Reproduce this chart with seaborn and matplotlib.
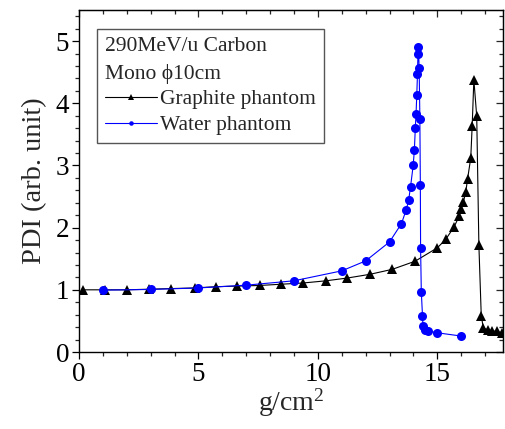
import numpy as np
import pandas as pd
import matplotlib
matplotlib.use("Agg")
import matplotlib.pyplot as plt
from matplotlib.ticker import MultipleLocator
import seaborn as sns

# ---- data ----
graphite_x = [0.18, 1.09, 1.99, 2.93, 3.87, 4.84, 5.72, 6.63, 7.56, 8.46, 9.39, 10.34,
              11.24, 12.19, 13.12, 14.07, 15.0, 15.35, 15.70, 15.91, 16.0, 16.09, 16.19,
              16.27, 16.40, 16.46, 16.53, 16.65, 16.74, 16.84, 16.93, 17.12, 17.3, 17.5, 17.72]
graphite_y = [1.0, 1.0, 1.0, 1.01, 1.02, 1.03, 1.05, 1.06, 1.07, 1.09, 1.11, 1.145,
              1.19, 1.25, 1.33, 1.46, 1.675, 1.81, 2.01, 2.18, 2.30, 2.41, 2.57,
              2.79, 3.12, 3.64, 4.38, 3.79, 1.72, 0.58, 0.38, 0.36, 0.34, 0.33, 0.31]

water_x = [1.0, 3.0, 5.0, 7.0, 9.0, 11.0, 12.0, 13.0, 13.5, 13.7, 13.8, 13.88, 13.99,
           14.04, 14.08, 14.11, 14.14, 14.17, 14.19, 14.21, 14.24, 14.27, 14.29, 14.30,
           14.33, 14.38, 14.40, 14.49, 14.63, 14.98, 15.99]
water_y = [0.995, 1.006, 1.03, 1.075, 1.145, 1.305, 1.465, 1.77, 2.065, 2.29, 2.44, 2.66, 3.0,
           3.25, 3.61, 3.83, 4.13, 4.47, 4.80, 4.90, 4.57, 3.75, 2.68, 1.675,
           0.97, 0.58, 0.42, 0.36, 0.34, 0.31, 0.257]

legend_title = "290MeV/u Carbon\nMono ϕ10cm"
series_names = ["Graphite phantom", "Water phantom"]
x_label = "g/cm$^{2}$"
y_label = "PDI (arb. unit)"

sns.set_style("ticks")
plt.rcParams["font.family"] = ["Liberation Serif", "DejaVu Serif"]
plt.rcParams["mathtext.fontset"] = "custom"
plt.rcParams["mathtext.rm"] = "Liberation Serif"
plt.rcParams["mathtext.it"] = "Liberation Serif:italic"

fig = plt.figure(figsize=(5.05, 4.29), dpi=100)
ax = fig.add_axes([79/505, 1-352/429, 424/505, 342/429])

gdf = pd.DataFrame({"x": graphite_x, "y": graphite_y})
wdf = pd.DataFrame({"x": water_x, "y": water_y})

sns.lineplot(data=gdf, x="x", y="y", ax=ax, sort=False, estimator=None,
             color="black", lw=0.8, marker="^", markersize=7.5,
             markeredgecolor="black", markeredgewidth=0, label=series_names[0])
sns.lineplot(data=wdf, x="x", y="y", ax=ax, sort=False, estimator=None,
             color="#0000ff", lw=0.8, marker="o", markersize=6.5,
             markeredgecolor="#0000ff", markeredgewidth=0, label=series_names[1])

ax.set_xlim(0, 17.75)
ax.set_ylim(0, 5.5)
ax.xaxis.set_major_locator(MultipleLocator(5))
ax.xaxis.set_minor_locator(MultipleLocator(1))
ax.yaxis.set_major_locator(MultipleLocator(1))
ax.yaxis.set_minor_locator(MultipleLocator(0.2))
ax.tick_params(which="major", direction="out", length=5, width=0.9, labelsize=19.5,
               colors="black", pad=2)
ax.tick_params(which="minor", direction="out", length=2.6, width=0.9)

for side in ["top", "right"]:
    ax.spines[side].set_visible(True)
for sp in ax.spines.values():
    sp.set_linewidth(1.0)
    sp.set_color("black")

secx = ax.secondary_xaxis("top")
secx.xaxis.set_major_locator(MultipleLocator(5))
secx.xaxis.set_minor_locator(MultipleLocator(1))
secx.tick_params(which="major", direction="in", length=5, width=0.9, labeltop=False)
secx.tick_params(which="minor", direction="in", length=2.6, width=0.9)
secy = ax.secondary_yaxis("right")
secy.yaxis.set_major_locator(MultipleLocator(1))
secy.yaxis.set_minor_locator(MultipleLocator(0.2))
secy.tick_params(which="major", direction="in", length=5, width=0.9, labelright=False)
secy.tick_params(which="minor", direction="in", length=2.6, width=0.9)

ax.set_xlabel(x_label, fontsize=20, labelpad=0)
ax.set_ylabel(y_label, fontsize=20.5, labelpad=6)

handles, labels = ax.get_legend_handles_labels()
leg = ax.legend(handles, labels, title=legend_title, alignment="left",
                loc="upper left", bbox_to_anchor=(0.0425, 0.944), borderaxespad=0,
                fontsize=15.5, title_fontsize=15.5, frameon=True, fancybox=False,
                edgecolor="#555555", framealpha=1, markerscale=0.5,
                handlelength=2.4, handletextpad=0.15, labelspacing=0.26,
                borderpad=0.38)
leg.get_title().set_linespacing(1.5)
leg.get_frame().set_linewidth(1.0)

fig.savefig("out.png", dpi=100)
